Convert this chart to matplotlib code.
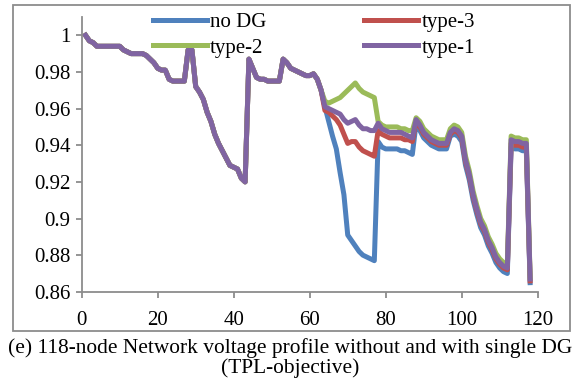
import matplotlib
matplotlib.use("Agg")
import matplotlib.pyplot as plt
from matplotlib.patches import Rectangle
from matplotlib.ticker import FuncFormatter

plt.rcParams['font.family'] = ['Liberation Serif', 'DejaVu Serif']

# node numbers 1..118
nodes = list(range(1, 119))

# nodes 1-63: all four profiles lie on top of each other
shared = [1.000, 0.997, 0.996, 0.994, 0.994, 0.994, 0.994, 0.994, 0.994, 0.994,
          0.992, 0.991, 0.990, 0.990, 0.990, 0.990, 0.989, 0.987, 0.985, 0.982,
          0.981, 0.981, 0.976, 0.975, 0.975, 0.975, 0.975, 0.992, 0.992, 0.972,
          0.969, 0.965, 0.958, 0.953, 0.946, 0.941, 0.937, 0.933, 0.929, 0.928,
          0.927, 0.922, 0.920, 0.987, 0.982, 0.977, 0.976, 0.976, 0.975, 0.975,
          0.975, 0.975, 0.987, 0.985, 0.982, 0.981, 0.980, 0.979, 0.978, 0.978,
          0.979, 0.976, 0.970]

# nodes 64-118 for each case
no_dg_tail = [0.961, 0.953, 0.945, 0.938, 0.925, 0.913, 0.891, 0.888, 0.885, 0.882,
              0.880, 0.879, 0.878, 0.877, 0.942, 0.939, 0.938, 0.938, 0.938, 0.938,
              0.937, 0.937, 0.936, 0.935, 0.952, 0.948, 0.944, 0.942, 0.940, 0.939,
              0.938, 0.938, 0.938, 0.945, 0.946, 0.945, 0.942, 0.929, 0.921, 0.910,
              0.902, 0.895, 0.891, 0.885, 0.881, 0.876, 0.873, 0.871, 0.870, 0.939,
              0.938, 0.938, 0.937, 0.937, 0.865]
type3_tail = [0.959, 0.958, 0.956, 0.954, 0.951, 0.946, 0.941, 0.942, 0.942, 0.939,
              0.937, 0.936, 0.935, 0.934, 0.948, 0.946, 0.945, 0.944, 0.944, 0.944,
              0.944, 0.943, 0.943, 0.942, 0.953, 0.950, 0.946, 0.944, 0.942, 0.941,
              0.940, 0.940, 0.940, 0.946, 0.948, 0.947, 0.944, 0.931, 0.923, 0.912,
              0.904, 0.897, 0.893, 0.887, 0.883, 0.878, 0.875, 0.873, 0.872, 0.941,
              0.940, 0.940, 0.939, 0.939, 0.866]
type2_tail = [0.964, 0.963, 0.964, 0.965, 0.966, 0.968, 0.970, 0.972, 0.974, 0.971,
              0.969, 0.968, 0.967, 0.966, 0.953, 0.951, 0.950, 0.950, 0.950, 0.950,
              0.949, 0.949, 0.948, 0.948, 0.955, 0.953, 0.949, 0.947, 0.945, 0.944,
              0.943, 0.943, 0.943, 0.949, 0.951, 0.950, 0.947, 0.934, 0.926, 0.915,
              0.907, 0.900, 0.896, 0.890, 0.886, 0.881, 0.878, 0.876, 0.875, 0.945,
              0.944, 0.944, 0.943, 0.943, 0.868]
type1_tail = [0.961, 0.960, 0.959, 0.958, 0.957, 0.954, 0.952, 0.953, 0.954, 0.951,
              0.949, 0.949, 0.948, 0.948, 0.952, 0.949, 0.948, 0.947, 0.947, 0.947,
              0.947, 0.946, 0.945, 0.944, 0.954, 0.951, 0.947, 0.945, 0.943, 0.942,
              0.941, 0.941, 0.941, 0.947, 0.949, 0.948, 0.945, 0.932, 0.924, 0.913,
              0.905, 0.898, 0.894, 0.888, 0.884, 0.879, 0.876, 0.874, 0.873, 0.943,
              0.942, 0.942, 0.941, 0.941, 0.867]

no_dg = shared + no_dg_tail
type3 = shared + type3_tail
type2 = shared + type2_tail
type1 = shared + type1_tail

x_ticks = [0, 20, 40, 60, 80, 100, 120]
y_ticks = [0.86, 0.88, 0.9, 0.92, 0.94, 0.96, 0.98, 1.0]
caption = "(e) 118-node Network voltage profile without and with single DG\n(TPL-objective)"

fig = plt.figure(figsize=(5.8, 3.86), dpi=100)
ax = fig.add_axes([0.1409, 0.2440, 0.7862, 0.7120])

lw = 3.6
l_nodg, = ax.plot(nodes, no_dg, color='#4F81BD', lw=lw, label='no DG')
l_t3, = ax.plot(nodes, type3, color='#C0504D', lw=lw, label='type-3')
l_t2, = ax.plot(nodes, type2, color='#9BBB59', lw=lw, label='type-2')
l_t1, = ax.plot(nodes, type1, color='#8064A2', lw=lw, label='type-1')

ax.set_xlim(0, 120)
ax.set_ylim(0.86, 1.01)
ax.set_xticks(x_ticks)
ax.set_yticks(y_ticks)
ax.yaxis.set_major_formatter(FuncFormatter(lambda v, p: '%g' % round(v, 2)))

for s in ['top', 'right']:
    ax.spines[s].set_visible(False)
for s in ['left', 'bottom']:
    ax.spines[s].set_color('#8c8c8c')
    ax.spines[s].set_linewidth(1.3)
ax.tick_params(direction='out', length=4, width=1.3, color='#8c8c8c',
               labelsize=15, pad=4)
ax.tick_params(axis='x', pad=10)

# legend in two rows: no DG / type-3, type-2 / type-1
leg = fig.legend([l_nodg, l_t2, l_t3, l_t1], ['no DG', 'type-2', 'type-3', 'type-1'],
                 ncol=2, loc='upper left', bbox_to_anchor=(0.263, 0.968),
                 frameon=False, fontsize=15, handlelength=2.6, handletextpad=0.15,
                 columnspacing=4.7, labelspacing=0.3, borderpad=0, borderaxespad=0)

# chart border
fig.patches.append(Rectangle((13 / 580, 1 - 331 / 386), 557 / 580, 326 / 386,
                             transform=fig.transFigure, fill=False,
                             edgecolor='#8c8c8c', lw=1.3))

fig.text(0.5, 1 - 358 / 386, caption, ha='center', va='center',
         fontsize=15.4, linespacing=1.0)

fig.savefig('out.png', dpi=100)
